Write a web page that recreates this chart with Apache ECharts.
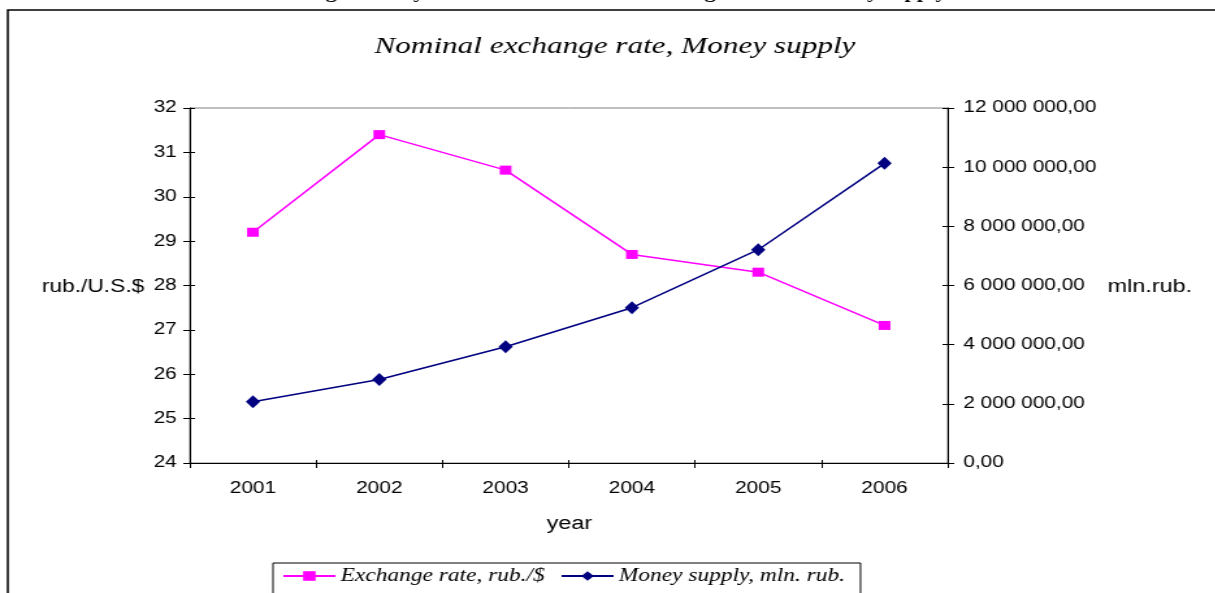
<!DOCTYPE html>
<html>
<head>
<meta charset="utf-8">
<script src="https://cdn.jsdelivr.net/npm/echarts@6/dist/echarts.min.js"></script>
<style>
  html, body { margin: 0; padding: 0; background: #fff; overflow: hidden; }
  /* the reference picture is stretched sideways, so draw narrower and stretch */
  #chart { width: 935px; height: 593px; transform: scaleX(1.3); transform-origin: 0 0; }
</style>
</head>
<body>
<div id="chart"></div>
<script>
  // data
  const years = ['2001', '2002', '2003', '2004', '2005', '2006'];
  const exchangeRate = [29.2, 31.4, 30.6, 28.7, 28.3, 27.1];
  const moneySupply = [2070000, 2820000, 3930000, 5250000, 7210000, 10130000];
  const rateTicks = [24, 32, 1];            // min, max, step
  const moneyTicks = [0, 12000000, 2000000]; // min, max, step

  const serif = '"Liberation Serif", "Times New Roman", serif';
  const sans = '"Liberation Sans", Arial, sans-serif';

  function moneyLabel(v) {
    const s = Math.round(v).toString().replace(/\B(?=(\d{3})+(?!\d))/g, ' ');
    return s + ',00';
  }

  const labelStyle = { color: '#000', fontFamily: sans, fontSize: 16 };
  const blackLine = { show: true, lineStyle: { color: '#000', width: 1 } };

  function tickAxis(pos, ticks) {
    // extra axis only used to draw the inner half of the crossing ticks
    return {
      type: 'value', position: pos, min: ticks[0], max: ticks[1], interval: ticks[2],
      axisLine: { show: false }, axisLabel: { show: false }, splitLine: { show: false },
      axisTick: { show: true, inside: true, length: 4, lineStyle: { color: '#000' } }
    };
  }

  const option = {
    animation: false,
    backgroundColor: '#fff',
    grid: {
      left: 146, right: 206, top: 108, bottom: 130,
      show: true, borderColor: '#808080', borderWidth: 1,
      outerBoundsMode: 'none'
    },
    xAxis: [
      {
        type: 'category', data: years, boundaryGap: true,
        axisLine: blackLine,
        axisTick: { show: true, length: 5, lineStyle: { color: '#000' } },
        axisLabel: Object.assign({ margin: 18 }, labelStyle),
        splitLine: { show: false }
      },
      {
        type: 'category', data: years, boundaryGap: true, position: 'bottom',
        axisLine: { show: false }, axisLabel: { show: false },
        axisTick: { show: true, inside: true, length: 3, lineStyle: { color: '#000' } }
      }
    ],
    yAxis: [
      {
        type: 'value', position: 'left',
        min: rateTicks[0], max: rateTicks[1], interval: rateTicks[2],
        axisLine: blackLine,
        axisTick: { show: true, length: 5, lineStyle: { color: '#000' } },
        axisLabel: Object.assign({ margin: 10 }, labelStyle),
        splitLine: { show: false }
      },
      {
        type: 'value', position: 'right',
        min: moneyTicks[0], max: moneyTicks[1], interval: moneyTicks[2],
        axisLine: blackLine,
        axisTick: { show: true, length: 5, lineStyle: { color: '#000' } },
        axisLabel: Object.assign({ margin: 12, formatter: moneyLabel }, labelStyle),
        splitLine: { show: false }
      },
      tickAxis('left', rateTicks),
      tickAxis('right', moneyTicks)
    ],
    legend: {
      left: 210, top: 563,
      data: ['Exchange rate, rub./$', 'Money supply, mln. rub.'],
      itemWidth: 40, itemHeight: 12, itemGap: 12,
      borderColor: '#000', borderWidth: 1, borderRadius: 0,
      padding: [4, 12, 40, 7],
      textStyle: { color: '#000', fontFamily: serif, fontStyle: 'italic', fontSize: 18, padding: [0, 0, 0, -1] }
    },
    graphic: [
      {
        type: 'rect', silent: true,
        shape: { x: 6, y: 10, width: 1200, height: 800 },
        style: { fill: 'none', stroke: '#000', lineWidth: 1.5 }
      },
      {
        type: 'text', silent: true,
        style: {
          x: 728, y: -6.5, text: 'Figure 4: Dynamics of the nominal exchange rate and money supply',
          font: 'bold 17px ' + serif, textAlign: 'right', textVerticalAlign: 'middle', fill: '#000'
        }
      },
      {
        type: 'text', silent: true,
        style: {
          x: 473, y: 47, text: 'Nominal exchange rate, Money supply',
          font: 'italic 24px ' + serif, textAlign: 'center', textVerticalAlign: 'middle', fill: '#000'
        }
      },
      {
        type: 'text', silent: true,
        style: {
          x: 111, y: 287, text: 'rub./U.S.$',
          font: '17.5px ' + sans, textAlign: 'right', textVerticalAlign: 'middle', fill: '#000'
        }
      },
      {
        type: 'text', silent: true,
        style: {
          x: 852, y: 287, text: 'mln.rub.',
          font: '18px ' + sans, textAlign: 'left', textVerticalAlign: 'middle', fill: '#000'
        }
      },
      {
        type: 'text', silent: true,
        style: {
          x: 438, y: 524, text: 'year',
          font: '18px ' + sans, textAlign: 'center', textVerticalAlign: 'middle', fill: '#000'
        }
      }
    ],
    series: [
      {
        name: 'Exchange rate, rub./$', type: 'line',
        xAxisIndex: 0, yAxisIndex: 0,
        data: exchangeRate,
        symbol: 'rect', symbolSize: 9,
        itemStyle: { color: '#FF00FF' },
        lineStyle: { color: '#FF00FF', width: 1.5 }
      },
      {
        name: 'Money supply, mln. rub.', type: 'line',
        xAxisIndex: 0, yAxisIndex: 1,
        data: moneySupply,
        symbol: 'diamond', symbolSize: [11, 13],
        itemStyle: { color: '#000080' },
        lineStyle: { color: '#000080', width: 1.5 }
      }
    ]
  };

  const myChart = echarts.init(document.getElementById('chart'));
  myChart.setOption(option);
</script>
</body>
</html>
